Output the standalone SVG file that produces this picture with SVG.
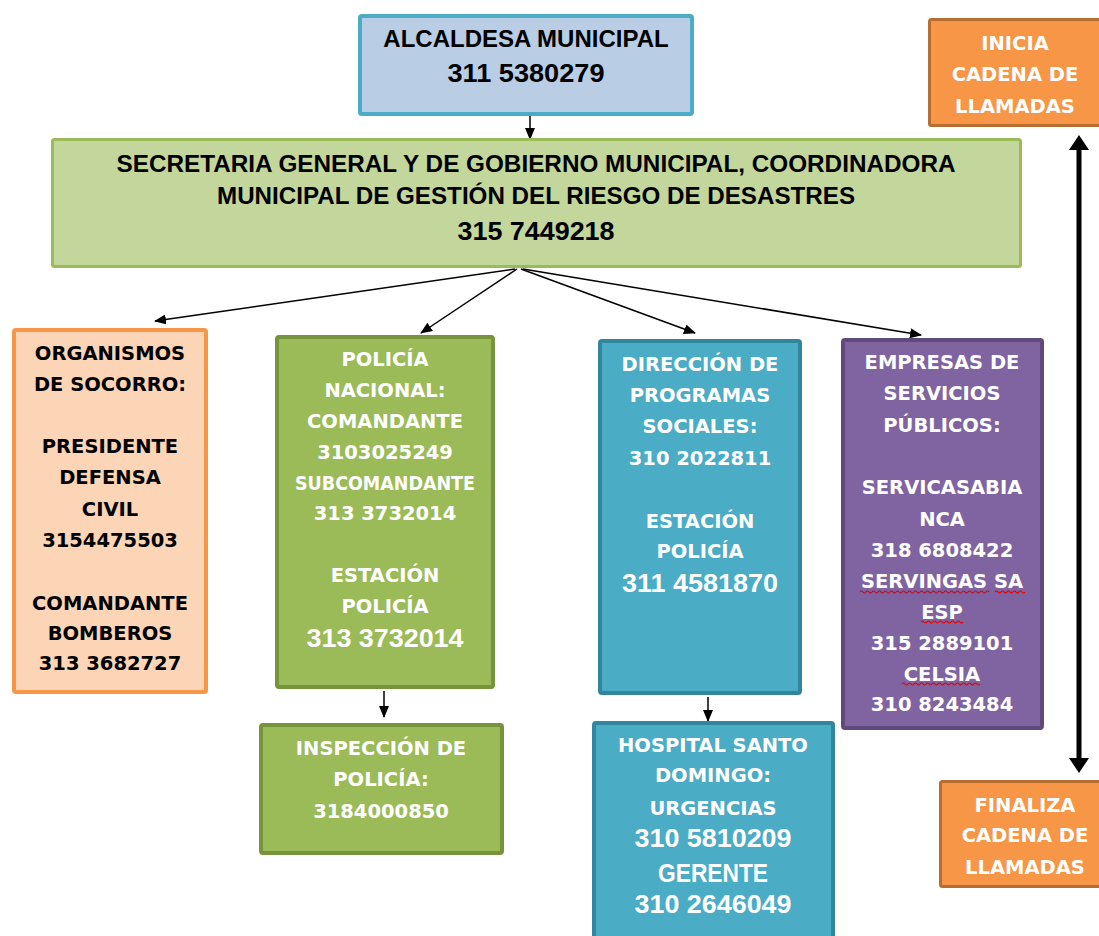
<svg xmlns="http://www.w3.org/2000/svg" width="1099" height="936" viewBox="0 0 1099 936">
<defs>
<marker id="ah" markerUnits="userSpaceOnUse" markerWidth="12" markerHeight="10" refX="11" refY="5" orient="auto">
<path d="M0,0 L12,5 L0,10 Z" fill="#000"/>
</marker>
<style>
.v{font-family:"DejaVu Sans","Verdana",sans-serif;font-weight:bold;font-size:19.5px;text-anchor:middle}
.t{font-family:"Liberation Sans",Arial,sans-serif;font-weight:bold;text-anchor:middle}
.w{fill:#fff}
.k{fill:#000}
.cn{stroke:#000;stroke-width:1.5;fill:none;marker-end:url(#ah)}
.wav{stroke:#e00000;stroke-width:1.2;fill:none}
</style>
</defs>
<rect width="1099" height="936" fill="#fff"/>

<g id="connectors">
<line class="cn" x1="530" y1="116" x2="530" y2="139"/>
<line class="cn" x1="515" y1="269" x2="155" y2="321"/>
<line class="cn" x1="517" y1="269" x2="421" y2="333"/>
<line class="cn" x1="521" y1="269" x2="695" y2="333"/>
<line class="cn" x1="523" y1="269" x2="921" y2="335"/>
<line class="cn" x1="384" y1="691" x2="384" y2="717"/>
<line class="cn" x1="708" y1="697" x2="708" y2="721"/>
<rect x="1076.5" y="147" width="5" height="614" fill="#000"/>
<path d="M1079,135 L1069,150 L1089,150 Z" fill="#000"/>
<path d="M1079,773 L1069,758 L1089,758 Z" fill="#000"/>
</g>

<g id="alcaldesa">
<rect x="360" y="16" width="332" height="98" rx="2" fill="#B9CDE5" stroke="#4BACC6" stroke-width="4"/>
<text class="t k" x="526" y="47" font-size="24">ALCALDESA MUNICIPAL</text>
<text class="t k" x="526" y="82" font-size="26" textLength="157" lengthAdjust="spacingAndGlyphs">311 5380279</text>
</g>

<g id="secretaria">
<rect x="52.5" y="139.5" width="968" height="127" rx="2" fill="#C3D69B" stroke="#9BBB59" stroke-width="3"/>
<text class="t k" x="536" y="172" font-size="24" textLength="839" lengthAdjust="spacingAndGlyphs">SECRETARIA GENERAL Y DE GOBIERNO MUNICIPAL, COORDINADORA</text>
<text class="t k" x="536" y="204" font-size="24" textLength="638" lengthAdjust="spacingAndGlyphs">MUNICIPAL DE GESTIÓN DEL RIESGO DE DESASTRES</text>
<text class="t k" x="536" y="240" font-size="26" textLength="157" lengthAdjust="spacingAndGlyphs">315 7449218</text>
</g>

<g id="inicia">
<rect x="929.5" y="19.5" width="175" height="106" rx="2" fill="#F79646" stroke="#B66D31" stroke-width="3"/>
<text class="v w" x="1015" y="50" font-size="19">INICIA</text>
<text class="v w" x="1015" y="81" font-size="19">CADENA DE</text>
<text class="v w" x="1015" y="113" font-size="19">LLAMADAS</text>
</g>

<g id="organismos">
<rect x="14" y="330" width="192" height="362" rx="2" fill="#FBD5B5" stroke="#F79646" stroke-width="4"/>
<text class="v k" x="110" y="360">ORGANISMOS</text>
<text class="v k" x="110" y="391">DE SOCORRO:</text>
<text class="v k" x="110" y="453">PRESIDENTE</text>
<text class="v k" x="110" y="484">DEFENSA</text>
<text class="v k" x="110" y="516">CIVIL</text>
<text class="v k" x="110" y="547">3154475503</text>
<text class="v k" x="110" y="610">COMANDANTE</text>
<text class="v k" x="110" y="640">BOMBEROS</text>
<text class="v k" x="110" y="670">313 3682727</text>
</g>

<g id="policia">
<rect x="277" y="337" width="216" height="350" rx="2" fill="#9BBB59" stroke="#77933C" stroke-width="4"/>
<text class="v w" x="385" y="366">POLICÍA</text>
<text class="v w" x="385" y="397">NACIONAL:</text>
<text class="v w" x="385" y="428">COMANDANTE</text>
<text class="v w" x="385" y="459">3103025249</text>
<text class="v w" x="385" y="490" textLength="180" lengthAdjust="spacingAndGlyphs">SUBCOMANDANTE</text>
<text class="v w" x="385" y="520">313 3732014</text>
<text class="v w" x="385" y="582">ESTACIÓN</text>
<text class="v w" x="385" y="613">POLICÍA</text>
<text class="t w" x="385" y="647" font-size="26" textLength="157" lengthAdjust="spacingAndGlyphs">313 3732014</text>
</g>

<g id="direccion">
<rect x="600" y="341" width="200" height="352" rx="2" fill="#4BACC6" stroke="#31859C" stroke-width="4"/>
<text class="v w" x="700" y="371">DIRECCIÓN DE</text>
<text class="v w" x="700" y="402">PROGRAMAS</text>
<text class="v w" x="700" y="433">SOCIALES:</text>
<text class="v w" x="700" y="465">310 2022811</text>
<text class="v w" x="700" y="528">ESTACIÓN</text>
<text class="v w" x="700" y="558">POLICÍA</text>
<text class="t w" x="700" y="592" font-size="26" textLength="156" lengthAdjust="spacingAndGlyphs">311 4581870</text>
</g>

<g id="empresas">
<rect x="843" y="340" width="199" height="388" rx="2" fill="#8064A2" stroke="#604A7B" stroke-width="4"/>
<text class="v w" x="942" y="369">EMPRESAS DE</text>
<text class="v w" x="942" y="400">SERVICIOS</text>
<text class="v w" x="942" y="432">PÚBLICOS:</text>
<text class="v w" x="942" y="494">SERVICASABIA</text>
<text class="v w" x="942" y="526">NCA</text>
<text class="v w" x="942" y="557">318 6808422</text>
<text class="v w" x="942" y="588">SERVINGAS SA</text>
<text class="v w" x="942" y="619">ESP</text>
<text class="v w" x="942" y="650">315 2889101</text>
<text class="v w" x="942" y="681">CELSIA</text>
<text class="v w" x="942" y="711">310 8243484</text>
<path class="wav" d="M860,592 q1.5,-2 3,0 t3,0 t3,0 t3,0 t3,0 t3,0 t3,0 t3,0 t3,0 t3,0 t3,0 t3,0 t3,0 t3,0 t3,0 t3,0 t3,0 t3,0 t3,0 t3,0 t3,0 t3,0 t3,0 t3,0 t3,0 t3,0 t3,0 t3,0 t3,0 t3,0 t3,0 t3,0 t3,0 t3,0 t3,0 t3,0 t3,0 t3,0 t3,0 t3,0 t3,0 t3,0 t3,0"/>
<path class="wav" d="M995,592 q1.5,-2 3,0 t3,0 t3,0 t3,0 t3,0 t3,0 t3,0 t3,0 t3,0 t3,0"/>
<path class="wav" d="M921,622 q1.5,-2 3,0 t3,0 t3,0 t3,0 t3,0 t3,0 t3,0 t3,0 t3,0 t3,0 t3,0 t3,0 t3,0 t3,0"/>
<path class="wav" d="M902,684 q1.5,-2 3,0 t3,0 t3,0 t3,0 t3,0 t3,0 t3,0 t3,0 t3,0 t3,0 t3,0 t3,0 t3,0 t3,0 t3,0 t3,0 t3,0 t3,0 t3,0 t3,0 t3,0 t3,0 t3,0 t3,0 t3,0 t3,0"/>
</g>

<g id="inspeccion">
<rect x="261" y="725" width="241" height="128" rx="2" fill="#9BBB59" stroke="#77933C" stroke-width="4"/>
<text class="v w" x="381" y="755">INSPECCIÓN DE</text>
<text class="v w" x="381" y="786">POLICÍA:</text>
<text class="v w" x="381" y="818">3184000850</text>
</g>

<g id="hospital">
<rect x="594" y="723" width="239" height="230" rx="2" fill="#4BACC6" stroke="#31859C" stroke-width="4"/>
<text class="v w" x="713" y="752">HOSPITAL SANTO</text>
<text class="v w" x="713" y="782">DOMINGO:</text>
<text class="v w" x="713" y="815">URGENCIAS</text>
<text class="t w" x="713" y="847" font-size="26" textLength="157" lengthAdjust="spacingAndGlyphs">310 5810209</text>
<text class="t w" x="713" y="882" font-size="26" textLength="110" lengthAdjust="spacingAndGlyphs">GERENTE</text>
<text class="t w" x="713" y="913" font-size="26" textLength="157" lengthAdjust="spacingAndGlyphs">310 2646049</text>
</g>

<g id="finaliza">
<rect x="940.5" y="781.5" width="170" height="105" rx="2" fill="#F79646" stroke="#B66D31" stroke-width="3"/>
<text class="v w" x="1025" y="812" font-size="19">FINALIZA</text>
<text class="v w" x="1025" y="842" font-size="19">CADENA DE</text>
<text class="v w" x="1025" y="874" font-size="19">LLAMADAS</text>
</g>
</svg>
